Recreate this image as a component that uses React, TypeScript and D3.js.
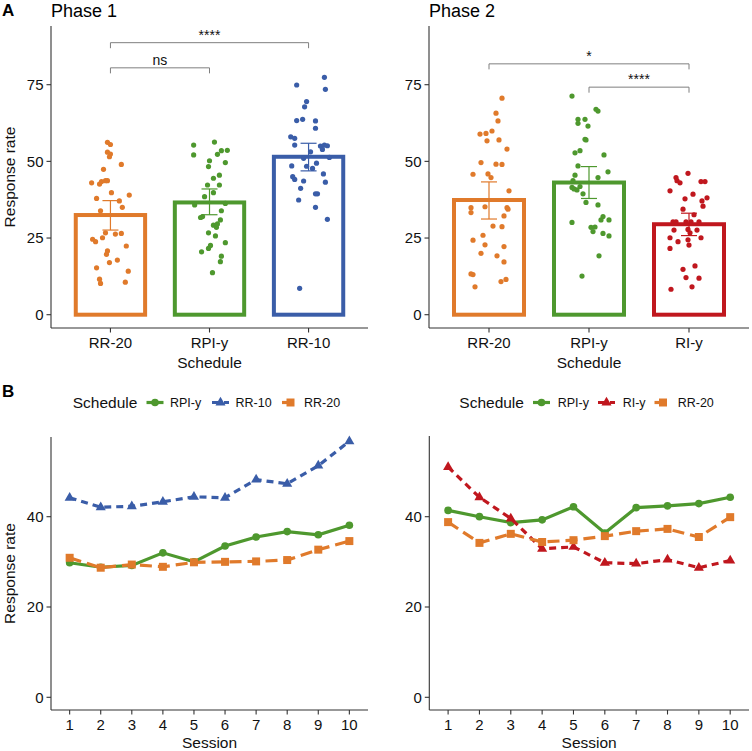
import React from "react";
import * as d3 from "d3";

// ---------- Colours ----------
const cOrange = "#E07A2B";
const cGreen = "#4E982E";
const cBlue = "#3A5DA8";
const cRed = "#C0171E";

// ---------- Panel A : Phase 1 ----------
const phase1Categories = ["RR-20", "RPI-y", "RR-10"];
const phase1Colors = [cOrange, cGreen, cBlue];
const phase1Means = [32.5, 36.6, 51.5];
const phase1Lower = [27.6, 32.6, 46.9];
const phase1Upper = [37.2, 41.0, 55.9];

// [jitter (category units), response rate]
const p1RR20: [number, number][] = [
  [-0.03, 56.2], [0.0, 55.5], [-0.03, 53.0], [0.0, 52.4], [-0.01, 51.5], [0.11, 49.0],
  [-0.07, 47.4], [-0.19, 43.0], [-0.11, 42.6], [-0.09, 43.4], [-0.05, 43.7], [-0.03, 43.7],
  [0.01, 39.8], [0.19, 39.0], [-0.14, 37.9], [0.09, 37.1], [0.12, 35.0], [-0.1, 33.9],
  [-0.05, 26.7], [0.05, 26.3], [0.11, 26.5], [-0.18, 24.6], [-0.15, 23.8], [-0.08, 25.1],
  [0.16, 22.4], [-0.03, 20.8], [-0.04, 19.7], [0.07, 17.8], [-0.01, 17.0], [-0.14, 15.3],
  [0.18, 14.2], [-0.11, 11.6], [-0.1, 10.2], [0.15, 10.6],
];
const p1RPIy: [number, number][] = [
  [-0.16, 55.3], [0.05, 56.3], [-0.16, 52.1], [0.12, 53.5], [0.18, 53.6], [0.08, 52.3],
  [0.0, 50.2], [0.16, 49.6], [-0.01, 48.3], [0.1, 45.5], [0.04, 44.5], [0.1, 42.3],
  [-0.02, 42.3], [0.04, 39.8], [-0.05, 38.5], [-0.15, 35.8], [0.16, 36.3], [0.12, 33.9],
  [-0.07, 32.0], [-0.09, 31.7], [0.11, 30.9], [0.04, 29.2], [0.07, 28.5], [0.08, 29.6],
  [-0.01, 26.7], [0.06, 25.7], [0.16, 23.5], [0.01, 22.6], [-0.01, 21.6], [-0.08, 20.5],
  [0.12, 19.1], [0.11, 17.3], [0.03, 13.7],
];
const p1RR10: [number, number][] = [
  [0.16, 77.4], [-0.12, 74.9], [0.17, 73.5], [-0.02, 69.5], [-0.04, 67.8], [-0.12, 63.3],
  [-0.06, 63.7], [0.07, 63.2], [0.07, 60.8], [-0.18, 58.0], [-0.14, 57.5], [-0.14, 55.3],
  [0.12, 55.0], [0.16, 55.3], [0.19, 55.1], [0.14, 53.9], [0.02, 53.1], [-0.05, 51.0],
  [0.08, 49.4], [-0.17, 48.5], [-0.02, 48.4], [0.04, 47.7], [0.21, 51.3], [-0.16, 45.0],
  [-0.14, 44.1], [0.15, 45.9], [-0.05, 43.6], [0.17, 43.2], [-0.08, 41.2], [0.09, 39.4],
  [0.07, 39.4], [-0.1, 37.4], [0.07, 35.0], [0.19, 31.1], [-0.09, 8.6],
];
const phase1Points = [p1RR20, p1RPIy, p1RR10];
const phase1Sig = [
  { from: 0, to: 2, y: 88.7, label: "****" },
  { from: 0, to: 1, y: 80.5, label: "ns" },
];

// ---------- Panel A : Phase 2 ----------
const phase2Categories = ["RR-20", "RPI-y", "RI-y"];
const phase2Colors = [cOrange, cGreen, cRed];
const phase2Means = [37.4, 43.1, 29.5];
const phase2Lower = [31.2, 37.9, 25.8];
const phase2Upper = [43.3, 48.3, 33.1];

const p2RR20: [number, number][] = [
  [0.13, 70.6], [0.07, 65.7], [0.09, 63.2], [-0.09, 58.9], [-0.03, 59.1], [0.03, 59.9],
  [-0.02, 56.7], [0.1, 57.0], [0.18, 54.0], [-0.08, 49.6], [0.07, 49.1], [0.13, 49.0],
  [-0.16, 45.8], [-0.01, 45.9], [0.02, 44.7], [0.2, 40.4], [-0.18, 34.9], [-0.18, 33.3],
  [-0.04, 35.2], [0.18, 34.9], [0.19, 34.4], [0.15, 32.2], [0.04, 28.9], [0.13, 28.7],
  [-0.06, 25.9], [-0.16, 24.3], [-0.04, 22.8], [0.15, 22.2], [-0.08, 20.0], [0.08, 19.2],
  [0.15, 17.2], [-0.18, 13.3], [-0.16, 13.1], [0.17, 11.5], [0.12, 10.8], [-0.14, 9.1],
];
const p2RPIy: [number, number][] = [
  [-0.17, 71.3], [0.07, 67.0], [0.09, 66.4], [-0.11, 63.7], [-0.11, 62.4], [-0.04, 63.7],
  [-0.01, 61.5], [-0.04, 57.2], [-0.03, 57.0], [-0.14, 52.8], [-0.09, 53.5], [0.15, 52.1],
  [-0.11, 48.5], [0.19, 46.6], [-0.14, 45.5], [0.09, 44.7], [-0.16, 43.7], [-0.17, 41.5],
  [-0.12, 40.7], [-0.09, 41.8], [-0.15, 41.0], [-0.06, 39.4], [-0.03, 36.6], [0.09, 35.8],
  [-0.17, 30.1], [0.14, 32.0], [0.2, 30.9], [0.12, 30.9], [0.02, 28.5], [0.06, 28.6],
  [0.04, 27.1], [0.14, 26.5], [0.2, 25.7], [0.1, 19.2], [-0.07, 12.6],
];
const p2RIy: [number, number][] = [
  [-0.01, 46.1], [-0.13, 44.7], [-0.12, 43.7], [-0.09, 43.0], [0.12, 43.4], [0.16, 43.4],
  [-0.19, 40.4], [0.04, 39.3], [-0.04, 37.8], [0.18, 38.1], [0.13, 37.1], [0.14, 35.4],
  [-0.06, 34.4], [0.05, 32.6], [-0.16, 30.3], [-0.13, 30.3], [-0.03, 30.3], [0.1, 30.3],
  [0.02, 30.3], [-0.15, 27.6], [-0.01, 27.8], [0.01, 26.7], [0.08, 27.6], [-0.19, 25.1],
  [0.12, 25.1], [-0.11, 23.8], [-0.01, 24.4], [0.0, 22.7], [-0.19, 21.6], [-0.06, 14.8],
  [0.06, 15.9], [-0.03, 12.1], [0.1, 11.9], [0.03, 9.1], [-0.18, 8.3],
];
const phase2Points = [p2RR20, p2RPIy, p2RIy];
const phase2Sig = [
  { from: 0, to: 2, y: 81.8, label: "*" },
  { from: 1, to: 2, y: 74.2, label: "****" },
];

const barTicks = [0, 25, 50, 75];

// ---------- Panel B ----------
const sessions = ["1", "2", "3", "4", "5", "6", "7", "8", "9", "10"];
const lineTicks = [0, 20, 40];

const b1Labels = ["RPI-y", "RR-10", "RR-20"];
const b1RPIy = [29.8, 28.8, 29.2, 32.0, 30.0, 33.5, 35.5, 36.7, 36.0, 38.1];
const b1RR10 = [44.2, 42.1, 42.3, 43.3, 44.4, 44.2, 48.2, 47.3, 51.3, 56.7];
const b1RR20 = [30.9, 28.7, 29.4, 28.9, 29.9, 30.0, 30.1, 30.4, 32.7, 34.6];

const b2Labels = ["RPI-y", "RI-y", "RR-20"];
const b2RPIy = [41.4, 40.0, 38.7, 39.3, 42.2, 36.4, 42.0, 42.4, 42.9, 44.3];
const b2RIy = [51.0, 44.3, 39.6, 32.9, 33.3, 29.8, 29.6, 30.5, 28.7, 30.3];
const b2RR20 = [38.8, 34.2, 36.2, 34.4, 34.8, 35.7, 36.8, 37.3, 35.5, 39.9];

const FONT = "'Liberation Sans', Arial, Helvetica, sans-serif";
const AXIS = "#333333";

type Sig = { from: number; to: number; y: number; label: string };

function BarPanel(props: {
  left: number; right: number; title: string;
  categories: string[]; colors: string[]; means: number[]; lower: number[]; upper: number[];
  points: [number, number][][]; sig: Sig[];
}) {
  const { left, right, title, categories, colors, means, lower, upper, points, sig } = props;
  const top = 26, bottom = 328;
  const x = d3.scalePoint<string>().domain(categories).range([left, right]).padding(0.6);
  const y = d3.scaleLinear().domain([0, 75]).range([314.7, 84.7]);
  const step = x.step();
  const bw = step * 0.7;
  return (
    <g>
      <text x={left} y={16.5} fontSize={18} fontFamily={FONT} fill="#000">{title}</text>
      {/* bars */}
      {categories.map((c, i) => (
        <rect key={"b" + c} x={(x(c) as number) - bw / 2} y={y(means[i])} width={bw}
          height={y(0) - y(means[i])} fill="white" stroke={colors[i]} strokeWidth={4} />
      ))}
      {/* points */}
      {categories.map((c, i) => points[i].map((p, j) => (
        <circle key={c + j} cx={(x(c) as number) + p[0] * step} cy={y(p[1])} r={2.6} fill={colors[i]} />
      )))}
      {/* error bars */}
      {categories.map((c, i) => {
        const cx = x(c) as number;
        return (
          <g key={"e" + c} stroke={colors[i]} strokeWidth={1.2}>
            <line x1={cx} x2={cx} y1={y(lower[i])} y2={y(upper[i])} />
            <line x1={cx - 8} x2={cx + 8} y1={y(lower[i])} y2={y(lower[i])} />
            <line x1={cx - 8} x2={cx + 8} y1={y(upper[i])} y2={y(upper[i])} />
          </g>
        );
      })}
      {/* significance brackets */}
      {sig.map((s, k) => {
        const x1 = x(categories[s.from]) as number;
        const x2 = x(categories[s.to]) as number;
        const yy = y(s.y);
        const yd = y(s.y - 1.8);
        return (
          <g key={"s" + k}>
            <path d={`M${x1},${yd}V${yy}H${x2}V${yd}`} fill="none" stroke="#7f7f7f" strokeWidth={1} />
            <text x={(x1 + x2) / 2} y={yy - 2.7} textAnchor="middle" fontSize={14} fontFamily={FONT} fill="#111">{s.label}</text>
          </g>
        );
      })}
      {/* axes */}
      <line x1={left} x2={left} y1={top} y2={bottom} stroke={AXIS} strokeWidth={1.1} />
      <line x1={left} x2={right} y1={bottom} y2={bottom} stroke={AXIS} strokeWidth={1.1} />
      {barTicks.map((t) => (
        <g key={"yt" + t}>
          <line x1={left - 4.5} x2={left} y1={y(t)} y2={y(t)} stroke={AXIS} strokeWidth={1.1} />
          <text x={left - 7.5} y={y(t)} dy="0.35em" textAnchor="end" fontSize={15} fontFamily={FONT} fill="#111">{t}</text>
        </g>
      ))}
      {categories.map((c) => (
        <g key={"xt" + c}>
          <line x1={x(c)} x2={x(c)} y1={bottom} y2={bottom + 4.5} stroke={AXIS} strokeWidth={1.1} />
          <text x={x(c)} y={348} textAnchor="middle" fontSize={15} fontFamily={FONT} fill="#111">{c}</text>
        </g>
      ))}
      <text x={(left + right) / 2} y={368} textAnchor="middle" fontSize={15.5} fontFamily={FONT} fill="#111">Schedule</text>
    </g>
  );
}

type Series = { label: string; values: number[]; color: string; dash: string | null; shape: "circle" | "triangle" | "square" };

function markerPath(shape: string) {
  if (shape === "circle") return d3.symbol(d3.symbolCircle, 46)() as string;
  if (shape === "triangle") return d3.symbol(d3.symbolTriangle, 44)() as string;
  return d3.symbol(d3.symbolSquare, 64)() as string;
}

function LinePanel(props: {
  left: number; right: number; top: number; series: Series[]; legendX: number[];
}) {
  const { left, right, top, series, legendX } = props;
  const bottom = 710;
  const x = d3.scalePoint<string>().domain(sessions).range([left, right]).padding(0.6);
  const y = d3.scaleLinear().domain([0, 40]).range([697.3, 516.7]);
  const line = d3.line<number>().x((_, i) => x(sessions[i]) as number).y((d) => y(d));
  // legendX: [titleX, key1X, label1X, key2X, label2X, key3X, label3X]
  const legY = 402.5;
  return (
    <g>
      {series.map((s) => (
        <g key={"l" + s.label}>
          <path d={line(s.values) as string} fill="none" stroke={s.color} strokeWidth={3.2}
            strokeDasharray={s.dash || undefined} />
          {s.values.map((v, i) => (
            <path key={i} d={markerPath(s.shape)} transform={`translate(${x(sessions[i])},${y(v)})`} fill={s.color} />
          ))}
        </g>
      ))}
      {/* legend */}
      <text x={legendX[0]} y={408} fontSize={15.5} fontFamily={FONT} fill="#111">Schedule</text>
      {series.map((s, k) => {
        const kx = legendX[1 + 2 * k];
        const lx = legendX[2 + 2 * k];
        return (
          <g key={"lg" + s.label}>
            <line x1={kx} x2={kx + 17} y1={legY} y2={legY} stroke={s.color} strokeWidth={3.2}
              strokeDasharray={s.dash || undefined} />
            <path d={markerPath(s.shape)} transform={`translate(${kx + 8.5},${legY})`} fill={s.color} />
            <text x={lx} y={407} fontSize={12.5} fontFamily={FONT} fill="#111">{s.label}</text>
          </g>
        );
      })}
      {/* axes */}
      <line x1={left} x2={left} y1={top} y2={bottom} stroke={AXIS} strokeWidth={1.1} />
      <line x1={left} x2={right} y1={bottom} y2={bottom} stroke={AXIS} strokeWidth={1.1} />
      {lineTicks.map((t) => (
        <g key={"yt" + t}>
          <line x1={left - 4.5} x2={left} y1={y(t)} y2={y(t)} stroke={AXIS} strokeWidth={1.1} />
          <text x={left - 7.5} y={y(t)} dy="0.35em" textAnchor="end" fontSize={15} fontFamily={FONT} fill="#111">{t}</text>
        </g>
      ))}
      {sessions.map((c) => (
        <g key={"xt" + c}>
          <line x1={x(c)} x2={x(c)} y1={bottom} y2={bottom + 4.5} stroke={AXIS} strokeWidth={1.1} />
          <text x={x(c)} y={730} textAnchor="middle" fontSize={15} fontFamily={FONT} fill="#111">{c}</text>
        </g>
      ))}
      <text x={(left + right) / 2} y={748} textAnchor="middle" fontSize={15.5} fontFamily={FONT} fill="#111">Session</text>
    </g>
  );
}

export default function App() {
  const b1Series: Series[] = [
    { label: b1Labels[0], values: b1RPIy, color: cGreen, dash: null, shape: "circle" },
    { label: b1Labels[1], values: b1RR10, color: cBlue, dash: "7,5", shape: "triangle" },
    { label: b1Labels[2], values: b1RR20, color: cOrange, dash: "12,6", shape: "square" },
  ];
  const b2Series: Series[] = [
    { label: b2Labels[0], values: b2RPIy, color: cGreen, dash: null, shape: "circle" },
    { label: b2Labels[1], values: b2RIy, color: cRed, dash: "7,5", shape: "triangle" },
    { label: b2Labels[2], values: b2RR20, color: cOrange, dash: "12,6", shape: "square" },
  ];
  return (
    <svg width={752} height={751} style={{ position: "absolute", left: 0, top: 0, background: "white" }}>
      <rect x={0} y={0} width={752} height={751} fill="white" />
      <text x={2} y={15.5} fontSize={17} fontWeight="bold" fontFamily={FONT} fill="#000">A</text>
      <text x={2} y={396.5} fontSize={17} fontWeight="bold" fontFamily={FONT} fill="#000">B</text>
      <text transform="translate(14.5,177) rotate(-90)" textAnchor="middle" fontSize={15.5} fontFamily={FONT} fill="#111">Response rate</text>
      <text transform="translate(14.5,573.5) rotate(-90)" textAnchor="middle" fontSize={15.5} fontFamily={FONT} fill="#111">Response rate</text>
      <BarPanel left={51} right={368} title="Phase 1" categories={phase1Categories} colors={phase1Colors}
        means={phase1Means} lower={phase1Lower} upper={phase1Upper} points={phase1Points} sig={phase1Sig} />
      <BarPanel left={429} right={749} title="Phase 2" categories={phase2Categories} colors={phase2Colors}
        means={phase2Means} lower={phase2Lower} upper={phase2Upper} points={phase2Points} sig={phase2Sig} />
      <LinePanel left={51} right={368} top={437} series={b1Series}
        legendX={[72.7, 146.5, 170, 212, 235.5, 282, 304]} />
      <LinePanel left={429.3} right={749} top={436} series={b2Series}
        legendX={[459.3, 533, 557.7, 598, 622.7, 654.5, 677.7]} />
    </svg>
  );
}
